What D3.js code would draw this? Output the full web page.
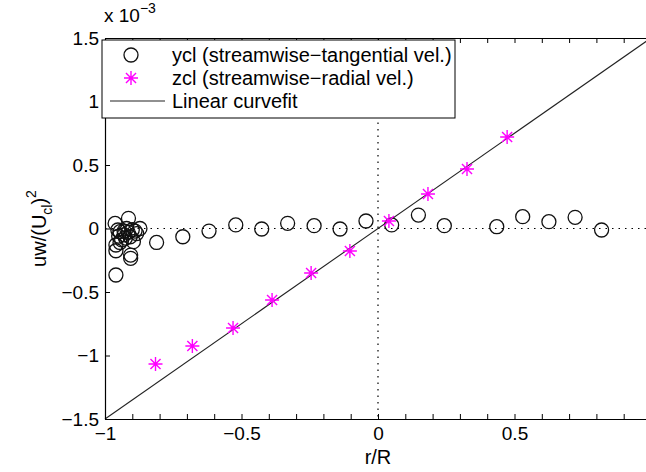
<!DOCTYPE html>
<html>
<head>
<meta charset="utf-8">
<script src="https://cdn.jsdelivr.net/npm/d3@7"></script>
<style>
  body { margin: 0; background: #fff; }
  text { font-family: "Liberation Sans", Arial, sans-serif; }
</style>
</head>
<body>
<svg id="chart" width="646" height="472"></svg>
<script>
// ycl points (r/R, uw/Ucl^2 in 1e-3)
var yclR = [-0.963, -0.953, -0.945, -0.939, -0.960, -0.960, -0.960, -0.921, -0.914, -0.908, -0.906, -0.906, -0.896, -0.884, -0.872, -0.930, -0.950, -0.890,
            -0.930, -0.915, -0.900, -0.925, -0.945,
            -0.811, -0.715, -0.619, -0.521, -0.426, -0.331, -0.234, -0.139, -0.044, 0.050, 0.148, 0.243, 0.435, 0.530, 0.626, 0.722, 0.819];
var yclV = [0.040, -0.012, -0.025, -0.090, -0.130, -0.175, -0.366, 0.000, 0.080, -0.065, -0.209, -0.235, -0.104, -0.040, 0.000, -0.050, -0.060, -0.020,
            -0.020, -0.030, -0.010, -0.075, -0.110,
            -0.110, -0.065, -0.020, 0.028, -0.004, 0.041, 0.022, -0.004, 0.059, 0.028, 0.106, 0.022, 0.014, 0.093, 0.054, 0.088, -0.012];
// zcl points
var zclR = [-0.815, -0.680, -0.531, -0.388, -0.245, -0.103, 0.040, 0.183, 0.326, 0.473];
var zclV = [-1.067, -0.925, -0.783, -0.563, -0.350, -0.177, 0.059, 0.272, 0.468, 0.720];
// linear fit
var fitSlope = 1.5;
var fitIntercept = 0;

var xTicks = d3.range(-10, 11).map(function(d) { return d / 10; });
var xLabels = [-1, -0.5, 0, 0.5];
var yTicks = [-1.5, -1, -0.5, 0, 0.5, 1, 1.5];

var legendLabels = ["ycl (streamwise\u2212tangential vel.)", "zcl (streamwise\u2212radial vel.)", "Linear curvefit"];

var svg = d3.select("#chart");
var plotLeft = 105, plotRight = 651, plotTop = 38, plotBottom = 419;

var x = d3.scaleLinear().domain([-1, 1]).range([plotLeft, plotRight]);
var y = d3.scaleLinear().domain([-1.5, 1.5]).range([plotBottom, plotTop]);
var fmt = d3.format("~g");

// zero reference lines
svg.append("line")
    .attr("x1", x(-1)).attr("x2", x(1))
    .attr("y1", y(0)).attr("y2", y(0))
    .attr("stroke", "#000").attr("stroke-width", 1.2)
    .attr("stroke-dasharray", "1.5,5");
svg.append("line")
    .attr("x1", x(0)).attr("x2", x(0))
    .attr("y1", y(1.5)).attr("y2", y(-1.5))
    .attr("stroke", "#000").attr("stroke-width", 1.2)
    .attr("stroke-dasharray", "1.5,5");

// fit line
svg.append("line")
    .attr("x1", x(-1)).attr("y1", y(fitIntercept - fitSlope))
    .attr("x2", x(1)).attr("y2", y(fitIntercept + fitSlope))
    .attr("stroke", "#222").attr("stroke-width", 1.1);

// ycl circles
svg.append("g").selectAll("circle")
    .data(yclR.map(function(r, i) { return [r, yclV[i]]; }))
    .join("circle")
    .attr("cx", function(d) { return x(d[0]); })
    .attr("cy", function(d) { return y(d[1]); })
    .attr("r", 7)
    .attr("fill", "none")
    .attr("stroke", "#111")
    .attr("stroke-width", 1.3);

// zcl asterisks
function asterisk(g, s) {
    var d = s * 0.72;
    g.append("path")
        .attr("d", "M" + (-s) + ",0L" + s + ",0M0," + (-s) + "L0," + s +
            "M" + (-d) + "," + (-d) + "L" + d + "," + d + "M" + (-d) + "," + d + "L" + d + "," + (-d))
        .attr("stroke", "#ff00ff").attr("stroke-width", 1.4).attr("fill", "none");
}
svg.append("g").selectAll("g")
    .data(zclR.map(function(r, i) { return [r, zclV[i]]; }))
    .join("g")
    .attr("transform", function(d) { return "translate(" + x(d[0]) + "," + y(d[1]) + ")"; })
    .each(function() { asterisk(d3.select(this), 7); });

// axes, ticks inward
var xAxis = svg.append("g").attr("transform", "translate(0," + plotBottom + ")")
    .call(d3.axisBottom(x).tickValues(xTicks).tickSizeInner(-5).tickSizeOuter(0)
        .tickFormat(function(d) { return xLabels.indexOf(Math.round(d * 10) / 10) >= 0 ? fmt(Math.round(d * 10) / 10) : ""; }));
svg.append("g").attr("transform", "translate(0," + plotTop + ")")
    .call(d3.axisTop(x).tickValues(xTicks).tickSizeInner(-5).tickSizeOuter(0).tickFormat(""));
var yAxis = svg.append("g").attr("transform", "translate(" + plotLeft + ",0)")
    .call(d3.axisLeft(y).tickValues(yTicks).tickSizeInner(-5).tickSizeOuter(0).tickFormat(fmt));
svg.append("g").attr("transform", "translate(" + plotRight + ",0)")
    .call(d3.axisRight(y).tickValues(yTicks).tickSizeInner(-5).tickSizeOuter(0).tickFormat(""));

svg.selectAll(".domain").attr("stroke", "#000").attr("stroke-width", 1.2);
svg.selectAll(".tick line").attr("stroke", "#000");
xAxis.selectAll("text").attr("font-size", 19).attr("fill", "#000").attr("y", 4).attr("dy", "0.9em")
    .attr("font-family", "Liberation Sans, Arial, sans-serif");
yAxis.selectAll("text").attr("font-size", 19).attr("fill", "#000").attr("x", -6)
    .attr("font-family", "Liberation Sans, Arial, sans-serif");

// exponent
var expo = svg.append("text").attr("x", 104).attr("y", 22).attr("font-size", 19);
expo.append("tspan").text("x 10");
expo.append("tspan").attr("dy", -9).attr("font-size", 14).text("\u22123");

// axis labels
svg.append("text").attr("x", x(0)).attr("y", 464).attr("text-anchor", "middle")
    .attr("font-size", 20).text("r/R");
var yl = svg.append("text").attr("transform", "translate(46," + y(0) + ") rotate(-90)")
    .attr("text-anchor", "middle").attr("font-size", 20);
yl.append("tspan").text("uw/(U");
yl.append("tspan").attr("dy", 6).attr("font-size", 14).text("cl");
yl.append("tspan").attr("dy", -6).text(")");
yl.append("tspan").attr("dy", -10).attr("font-size", 14).text("2");

// legend
var lg = svg.append("g");
lg.append("rect").attr("x", 102).attr("y", 40).attr("width", 353).attr("height", 78)
    .attr("fill", "#fff").attr("stroke", "#000").attr("stroke-width", 1);
var rowY = [55, 78, 101];
lg.append("circle").attr("cx", 131).attr("cy", rowY[0]).attr("r", 7)
    .attr("fill", "none").attr("stroke", "#111").attr("stroke-width", 1.3);
asterisk(lg.append("g").attr("transform", "translate(131," + rowY[1] + ")"), 7);
lg.append("line").attr("x1", 110).attr("x2", 165).attr("y1", rowY[2]).attr("y2", rowY[2])
    .attr("stroke", "#222").attr("stroke-width", 1.1);
lg.selectAll("text.leg").data(legendLabels).join("text")
    .attr("class", "leg")
    .attr("x", 172).attr("y", function(d, i) { return rowY[i]; })
    .attr("dy", "0.36em").attr("font-size", 20).text(function(d) { return d; });
</script>
</body>
</html>
